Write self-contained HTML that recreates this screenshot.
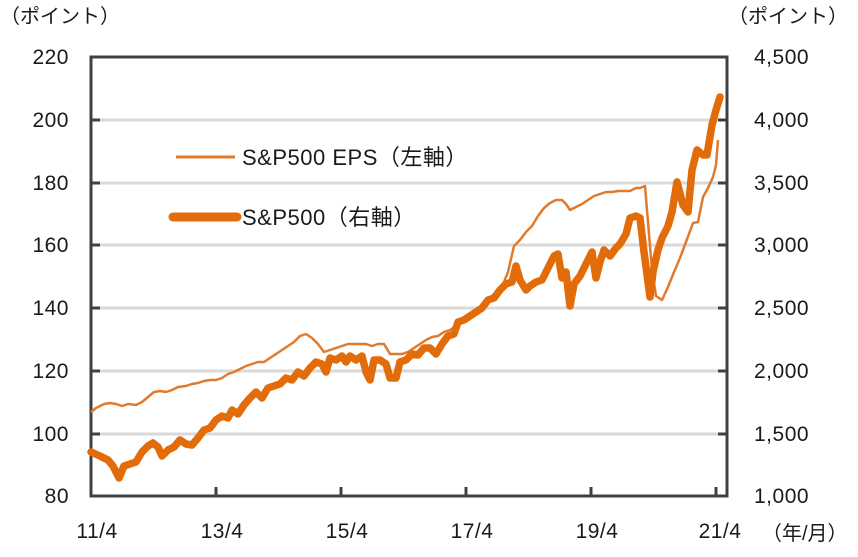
<!DOCTYPE html>
<html><head><meta charset="utf-8"><style>
body{margin:0;background:#fff;}
svg{display:block;font-family:"Liberation Sans","Noto Sans CJK JP",sans-serif;}
</style></head><body>
<svg width="858" height="557" viewBox="0 0 858 557">
<g stroke="#d9d9d9" stroke-width="3">
<line x1="91" y1="120" x2="727" y2="120"/>
<line x1="91" y1="183" x2="727" y2="183"/>
<line x1="91" y1="245" x2="727" y2="245"/>
<line x1="91" y1="308" x2="727" y2="308"/>
<line x1="91" y1="371" x2="727" y2="371"/>
<line x1="91" y1="434" x2="727" y2="434"/>
</g>
<rect x="91" y="57" width="636" height="439" fill="none" stroke="#404040" stroke-width="3"/>
<g stroke="#404040" stroke-width="3">
<line x1="91" y1="120" x2="100" y2="120"/><line x1="91" y1="183" x2="100" y2="183"/><line x1="91" y1="245" x2="100" y2="245"/><line x1="91" y1="308" x2="100" y2="308"/><line x1="91" y1="371" x2="100" y2="371"/><line x1="91" y1="434" x2="100" y2="434"/>
<line x1="718" y1="120" x2="727" y2="120"/><line x1="718" y1="183" x2="727" y2="183"/><line x1="718" y1="245" x2="727" y2="245"/><line x1="718" y1="308" x2="727" y2="308"/><line x1="718" y1="371" x2="727" y2="371"/><line x1="718" y1="434" x2="727" y2="434"/>
<line x1="216" y1="496" x2="216" y2="487"/><line x1="341" y1="496" x2="341" y2="487"/><line x1="466" y1="496" x2="466" y2="487"/><line x1="591" y1="496" x2="591" y2="487"/><line x1="716" y1="496" x2="716" y2="487"/>
</g>
<polyline fill="none" stroke="#e07b2e" stroke-width="2.5" stroke-linejoin="round" points="91,412 96,408 104,404 110,403 116,404 122,406 128,404 136,405 142,402 148,397 154,392 160,391 166,392 172,390 178,387 186,386 192,384 198,383 204,381 210,380 216,380 222,378 228,374 234,372 240,369 246,366 252,364 258,362 264,362 270,358 276,354 282,350 288,346 294,342 300,336 306,334 312,338 318,344 324,352 330,350 336,348 342,346 348,344 354,344 360,344 366,344 372,346 378,344 384,344 390,354 396,354 402,354 408,352 414,348 420,344 426,340 432,337 438,336 444,332 450,330 456,326 462,322 468,316 474,312 480,308 486,302 492,296 498,290 504,282 508,272 514,246 520,240 526,232 532,226 538,216 544,208 550,203 556,200 562,200 566,204 570,210 576,207 582,204 588,200 594,196 600,194 606,192 612,192 618,191 624,191 630,191 636,188 640,188 645,186 652,270 656,296 662,300 668,287 674,272 680,258 686,242 693,223 698,222 703,197 708,188 713,177 716,165 718,140"/>
<polyline fill="none" stroke="#e36c0a" stroke-width="7.5" stroke-linejoin="round" stroke-linecap="round" points="91,452 100,456 108,460 113,466 119,478 124,466 130,464 136,462 142,452 148,446 153,443 158,447 162,456 168,450 174,447 180,440 186,444 192,445 198,438 204,430 210,428 216,420 222,416 228,418 232,410 238,414 244,405 250,398 256,392 262,398 268,388 274,386 280,384 286,378 292,380 298,372 304,376 310,368 316,362 322,364 326,372 330,358 336,360 342,356 346,362 350,356 356,360 362,356 366,372 370,380 374,360 380,360 386,364 390,378 396,378 400,362 406,360 412,354 418,355 424,348 430,348 436,354 442,344 448,336 454,334 458,322 464,320 470,316 476,312 482,308 488,300 494,298 500,290 506,284 512,282 516,266 520,280 526,290 530,286 536,282 542,280 548,268 554,256 558,254 562,278 566,272 570,306 574,284 580,276 586,264 592,252 596,278 600,262 604,250 610,256 616,248 620,244 626,234 630,218 636,216 640,218 644,252 650,297 653,272 658,250 662,238 668,226 672,212 677,182 683,205 688,212 692,170 697,150 703,155 707,155 712,125 716,110 720,97"/>
<line x1="176" y1="157" x2="235" y2="157" stroke="#e07b2e" stroke-width="3"/>
<line x1="173" y1="217" x2="237" y2="217" stroke="#e36c0a" stroke-width="9" stroke-linecap="round"/>
<g font-size="22" fill="#1a1a1a">
<text x="242" y="165" letter-spacing="0.5">S&amp;P500 EPS（左軸）</text>
<text x="242" y="225" letter-spacing="0.5">S&amp;P500（右軸）</text>
</g>
<g font-size="21" fill="#1a1a1a" text-anchor="end" letter-spacing="0.5">
<text x="69" y="64">220</text><text x="69" y="127">200</text><text x="69" y="190">180</text><text x="69" y="252">160</text><text x="69" y="315">140</text><text x="69" y="378">120</text><text x="69" y="441">100</text><text x="69" y="503">80</text>
</g>
<g font-size="21" fill="#1a1a1a" letter-spacing="0.5">
<text x="754" y="64">4,500</text><text x="754" y="127">4,000</text><text x="754" y="190">3,500</text><text x="754" y="252">3,000</text><text x="754" y="315">2,500</text><text x="754" y="378">2,000</text><text x="754" y="441">1,500</text><text x="754" y="503">1,000</text>
</g>
<g font-size="21" fill="#1a1a1a" text-anchor="middle" letter-spacing="0.5">
<text x="97" y="538">11/4</text><text x="222" y="538">13/4</text><text x="347" y="538">15/4</text><text x="472" y="538">17/4</text><text x="597" y="538">19/4</text><text x="720" y="538">21/4</text>
</g>
<g font-size="20" fill="#1a1a1a">
<text x="0" y="23">（ポイント）</text>
<text x="728" y="23">（ポイント）</text>
<text x="762" y="540">（年/月）</text>
</g>
</svg>
</body></html>
